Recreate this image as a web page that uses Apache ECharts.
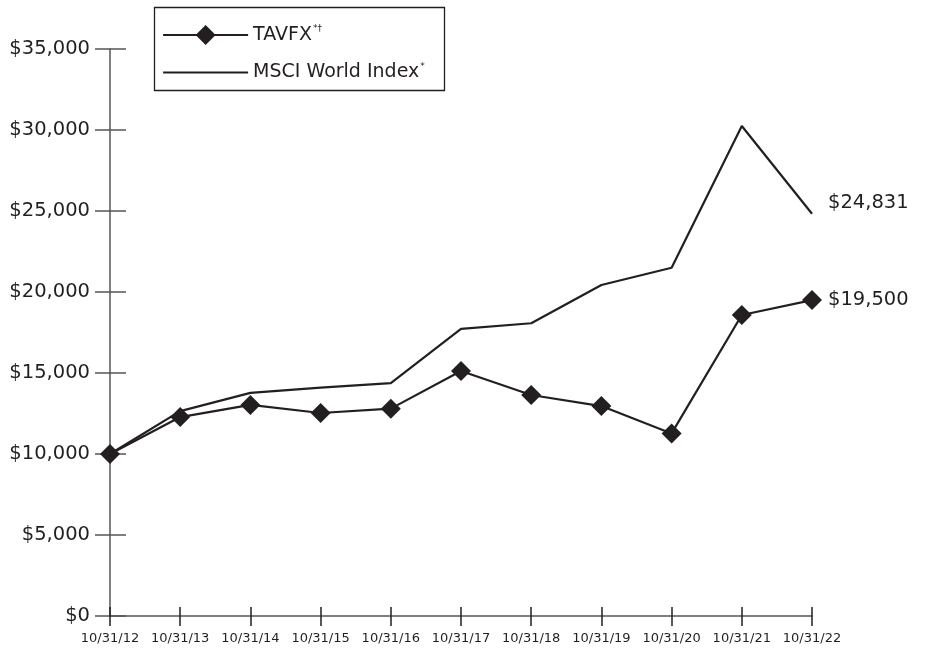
<!DOCTYPE html>
<html>
<head>
<meta charset="utf-8">
<script src="https://cdn.jsdelivr.net/npm/echarts@6/dist/echarts.min.js"></script>
<style>html,body{margin:0;padding:0;background:#fff;}#c{width:925px;height:652px;}</style>
</head>
<body>
<div id="c"></div>
<script>
const categories = ['10/31/12','10/31/13','10/31/14','10/31/15','10/31/16','10/31/17','10/31/18','10/31/19','10/31/20','10/31/21','10/31/22'];
const tavfx = [10000, 12280, 13030, 12530, 12800, 15120, 13640, 12960, 11270, 18580, 19500];
const msci = [10000, 12650, 13770, 14100, 14380, 17720, 18070, 20430, 21500, 30250, 24831];
const seriesNames = ['TAVFX', 'MSCI World Index'];
const yTicks = {min: 0, max: 35000, interval: 5000};

const ink = '#231f20';
const axisCol = '#555555';
const font = 'DejaVu Sans';
const fmt = v => '$' + v.toLocaleString('en-US');

const chart = echarts.init(document.getElementById('c'));
chart.setOption({
  backgroundColor: '#fff',
  animation: false,
  textStyle: {fontFamily: font, color: ink},
  grid: {left: 110, right: 113, top: 49, bottom: 36, containLabel: false},
  legend: {
    orient: 'vertical', left: 162, top: 24.5, padding: 0,
    itemWidth: 85, itemHeight: 25, itemGap: 17,
    data: [
      {name: seriesNames[0]},
      {name: seriesNames[1], itemStyle: {opacity: 0}}
    ],
    selectedMode: false,
    lineStyle: {width: 2.2},
    textStyle: {
      fontFamily: font, fontSize: 19, color: ink,
      rich: {sup: {fontSize: 9, verticalAlign: 'top', padding: [0,0,12,1], fontFamily: font, color: ink}}
    },
    formatter: n => n === 'TAVFX' ? 'TAVFX{sup|*†}' : 'MSCI World Index{sup|*}'
  },
  graphic: [{
    type: 'rect', left: 152, top: 5, z: 0,
    shape: {width: 290, height: 83},
    style: {fill: 'none', stroke: ink, lineWidth: 1.3}
  }],
  xAxis: [{
    type: 'category', data: categories, boundaryGap: false,
    axisLine: {lineStyle: {color: axisCol, width: 1.5}},
    axisTick: {show: true, length: 10, alignWithLabel: true, lineStyle: {color: ink, width: 1.5}},
    axisLabel: {interval: 0, margin: 16, fontSize: 13, fontFamily: font, color: ink},
    splitLine: {show: false}
  }, {
    type: 'category', data: categories, boundaryGap: false, position: 'bottom',
    axisLine: {show: false},
    axisTick: {show: true, inside: true, length: 9, lineStyle: {color: ink, width: 1.5}},
    axisLabel: {show: false},
    splitLine: {show: false}
  }],
  yAxis: [{
    type: 'value', min: yTicks.min, max: yTicks.max, interval: yTicks.interval,
    axisLine: {show: true, lineStyle: {color: axisCol, width: 1.5}},
    axisTick: {show: true, length: 15, lineStyle: {color: axisCol, width: 1.5}},
    axisLabel: {margin: 20, fontSize: 19.5, fontFamily: font, color: ink, formatter: fmt},
    splitLine: {show: false}
  }, {
    type: 'value', min: yTicks.min, max: yTicks.max, interval: yTicks.interval, position: 'left',
    axisLine: {show: false},
    axisTick: {show: true, inside: true, length: 16, lineStyle: {color: axisCol, width: 1.5}},
    axisLabel: {show: false},
    splitLine: {show: false}
  }],
  series: [{
    name: seriesNames[0], type: 'line', data: tavfx,
    xAxisIndex: 0, yAxisIndex: 0, z: 3,
    symbol: 'diamond', symbolSize: 20, showAllSymbol: true,
    itemStyle: {color: ink},
    lineStyle: {color: ink, width: 2.2},
    endLabel: {show: true, formatter: p => fmt(p.value), fontSize: 19.5, fontFamily: font, color: ink, distance: 16}
  }, {
    name: seriesNames[1], type: 'line', data: msci,
    xAxisIndex: 0, yAxisIndex: 0, z: 2,
    symbol: 'none',
    itemStyle: {color: ink},
    lineStyle: {color: ink, width: 2.2},
    endLabel: {show: true, formatter: p => fmt(p.value), fontSize: 19.5, fontFamily: font, color: ink, distance: 16, offset: [0, -11]}
  }]
});
</script>
</body>
</html>
